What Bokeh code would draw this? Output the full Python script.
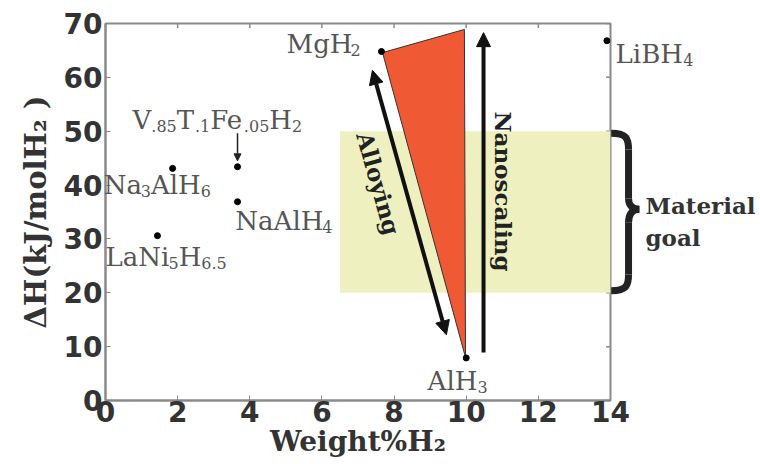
from bokeh.plotting import figure
from bokeh.models import Arrow, NormalHead, FixedTicker, Range1d, ColumnDataSource
from bokeh.core.properties import value
from bokeh.embed import file_html
from bokeh.resources import INLINE

# ---------------- data ----------------
compounds = ["MgH2", "AlH3", "LiBH4", "Na3AlH6", "V.85T.1Fe.05H2", "NaAlH4", "LaNi5H6.5"]
weight_pct = [7.65, 10.0, 13.9, 1.86, 3.66, 3.66, 1.44]
delta_h = [64.8, 7.9, 66.8, 43.1, 43.4, 36.9, 30.6]

# label text split into (text, is_subscript) pieces
label_pieces = [
    [("MgH", 0), ("2", 1)],
    [("AlH", 0), ("3", 1)],
    [("LiBH", 0), ("4", 1)],
    [("Na", 0), ("3", 1), ("AlH", 0), ("6", 1)],
    [("V", 0), (".85", 1), ("T", 0), (".1", 1), ("Fe", 0), (".05", 1), ("H", 0), ("2", 1)],
    [("NaAlH", 0), ("4", 1)],
    [("LaNi", 0), ("5", 1), ("H", 0), ("6.5", 1)],
]
label_x = [5.02, 8.93, 14.14, -0.05, 0.75, 3.6, 0.0]
label_y = [64.6, 1.9, 62.6, 38.4, 50.5, 31.6, 25.0]

goal_x = [6.5, 14.0]
goal_y = [20.0, 50.0]

wedge_x = [7.68, 9.95, 9.98]
wedge_y = [64.6, 68.9, 8.0]

alloy_start = (9.45, 12.2)
alloy_end = (7.4, 61.3)
nano_start = (10.48, 8.9)
nano_end = (10.48, 68.3)
v_arrow_start = (3.66, 49.6)
v_arrow_end = (3.66, 44.5)

x_ticks = [0, 2, 4, 6, 8, 10, 12, 14]
y_ticks = [0, 10, 20, 30, 40, 50, 60, 70]

# ---------------- figure ----------------
p = figure(width=760, height=464, output_backend="svg", toolbar_location=None,
           x_range=Range1d(0, 14), y_range=Range1d(0, 70),
           min_border_left=105, min_border_right=150, min_border_top=23, min_border_bottom=64,
           background_fill_color="white", border_fill_color="white")
p.xgrid.visible = False
p.ygrid.visible = False
p.outline_line_color = "#8a8a8a"
p.outline_line_width = 2

TICK_FONT = "DejaVu Sans"
SERIF = "DejaVu Serif"

for ax, ticks in ((p.xaxis[0], x_ticks), (p.yaxis[0], y_ticks)):
    ax.ticker = FixedTicker(ticks=ticks)
    ax.major_tick_in = 5
    ax.major_tick_out = 0
    ax.minor_tick_line_color = None
    ax.axis_line_color = "#8a8a8a"
    ax.axis_line_width = 2
    ax.major_tick_line_color = "#8a8a8a"
    ax.major_label_text_font = TICK_FONT
    ax.major_label_text_font_style = "bold"
    ax.major_label_text_font_size = "28px"
    ax.major_label_text_color = "#333333"
    ax.major_label_standoff = 0
    ax.axis_label_text_font = SERIF
    ax.axis_label_text_font_style = "bold"
    ax.axis_label_text_font_size = "28px"
    ax.axis_label_text_color = "#333333"
    ax.axis_label_standoff = 0

p.xaxis[0].axis_label = "Weight%H\u2082"
p.yaxis[0].axis_label = "\u0394H(kJ/molH\u2082 )"
p.yaxis[0].axis_label_text_font_size = "29px"
p.yaxis[0].axis_label_standoff = 8
p.yaxis[0].major_label_standoff = 3

# inward mirror ticks on the top and right edges (clipped to the frame -> inward half only)
p.scatter(x_ticks, [70] * len(x_ticks), marker="dash", size=9, angle=90, angle_units="deg",
          line_color="#8a8a8a", line_width=1.5)
p.scatter([14] * len(y_ticks), y_ticks, marker="dash", size=9,
          line_color="#8a8a8a", line_width=1.5)

# material goal band
p.quad(left=goal_x[0], right=goal_x[1], bottom=goal_y[0], top=goal_y[1],
       fill_color="#eef0c0", line_color=None)

# alloying wedge
p.patch(wedge_x, wedge_y, fill_color="#ef5a35", line_color="#333333", line_width=1)

# points
p.scatter(weight_pct, delta_h, size=6, color="black")

# arrows
head = dict(fill_color="#111111", line_color="#111111")
p.add_layout(Arrow(x_start=alloy_start[0], y_start=alloy_start[1], x_end=alloy_end[0], y_end=alloy_end[1],
                   line_width=4, line_color="#111111",
                   start=NormalHead(size=14, **head), end=NormalHead(size=14, **head)))
p.add_layout(Arrow(x_start=nano_start[0], y_start=nano_start[1], x_end=nano_end[0], y_end=nano_end[1],
                   line_width=4, line_color="#111111", end=NormalHead(size=14, **head)))
p.add_layout(Arrow(x_start=v_arrow_start[0], y_start=v_arrow_start[1], x_end=v_arrow_end[0], y_end=v_arrow_end[1],
                   line_width=1.5, line_color="#222222",
                   end=NormalHead(size=7, fill_color="#222222", line_color="#222222")))

# brace for material goal
ymid = (goal_y[0] + goal_y[1]) / 2
bx0, bx1, bx2 = 14.02, 14.5, 14.8
top, bot = goal_y[1] - 0.4, goal_y[0] + 0.4
p.bezier(x0=[bx0, bx1, bx1, bx2, bx1, bx1],
         y0=[top, top - 3, ymid + 2.5, ymid + 0.5, ymid - 2, bot + 3],
         x1=[bx1, bx1, bx2, bx1, bx1, bx0],
         y1=[top - 3, ymid + 2.5, ymid + 0.5, ymid - 2, bot + 3, bot],
         cx0=[bx1 - 0.05, bx1, bx1, bx2 - 0.15, bx1, bx1],
         cy0=[top, top - 3, ymid + 1, ymid + 0.5, ymid - 2, bot + 1],
         cx1=[bx1, bx1, bx2 - 0.15, bx1, bx1, bx1 - 0.05],
         cy1=[top - 1, ymid + 2.5, ymid + 0.5, ymid, bot + 3, bot],
         line_color="#222222", line_width=7, level="overlay")

# ---------------- compound labels ----------------
W = {'A': 1479, 'B': 1505, 'F': 1436, 'H': 1784, 'L': 1382, 'M': 1929, 'N': 1700, 'T': 1431,
     'V': 1479, 'a': 1221, 'e': 1215, 'g': 1313, 'i': 659, 'l': 659, '.': 651}
MAIN, SUB = 26, 16
BASE_SHIFT = -9  # px, lift the text baseline


def text_w(s, size):
    return sum(W.get(c, 1303) for c in s) / 2048 * size


cols = dict(x=[], y=[], text=[], xo=[], yo=[], fs=[])
for pieces, lx, ly in zip(label_pieces, label_x, label_y):
    off = 0.0
    for txt, sub in pieces:
        size = SUB if sub else MAIN
        cols["x"].append(lx)
        cols["y"].append(ly)
        cols["text"].append(txt)
        cols["xo"].append(off)
        cols["yo"].append(BASE_SHIFT + (6 if sub else 0))
        cols["fs"].append(f"{size}px")
        off += text_w(txt, size)

p.text(x="x", y="y", text="text", x_offset="xo", y_offset="yo", text_font_size="fs",
       source=ColumnDataSource(cols), text_font=value(SERIF), text_color="#555555",
       text_align="left", text_baseline="alphabetic", level="overlay")

# rotated annotations
p.text(x=[7.57], y=[40.3], text=["Alloying"], angle=-74.3, angle_units="deg",
       text_font=value(SERIF), text_font_style="bold", text_font_size="23px", text_color="#222222",
       text_align="center", text_baseline="middle", level="overlay")
p.text(x=[11.03], y=[38.8], text=["Nanoscaling"], angle=-90, angle_units="deg",
       text_font=value(SERIF), text_font_style="bold", text_font_size="23px", text_color="#222222",
       text_align="center", text_baseline="middle", level="overlay")
p.text(x=[14.97], y=[38.8], text=["Material\ngoal"],
       text_font=value(SERIF), text_font_style="bold", text_font_size="23px", text_color="#333333",
       text_align="left", text_baseline="top", text_line_height=1.2, level="overlay")

open("out.html", "w").write(file_html(p, INLINE))
